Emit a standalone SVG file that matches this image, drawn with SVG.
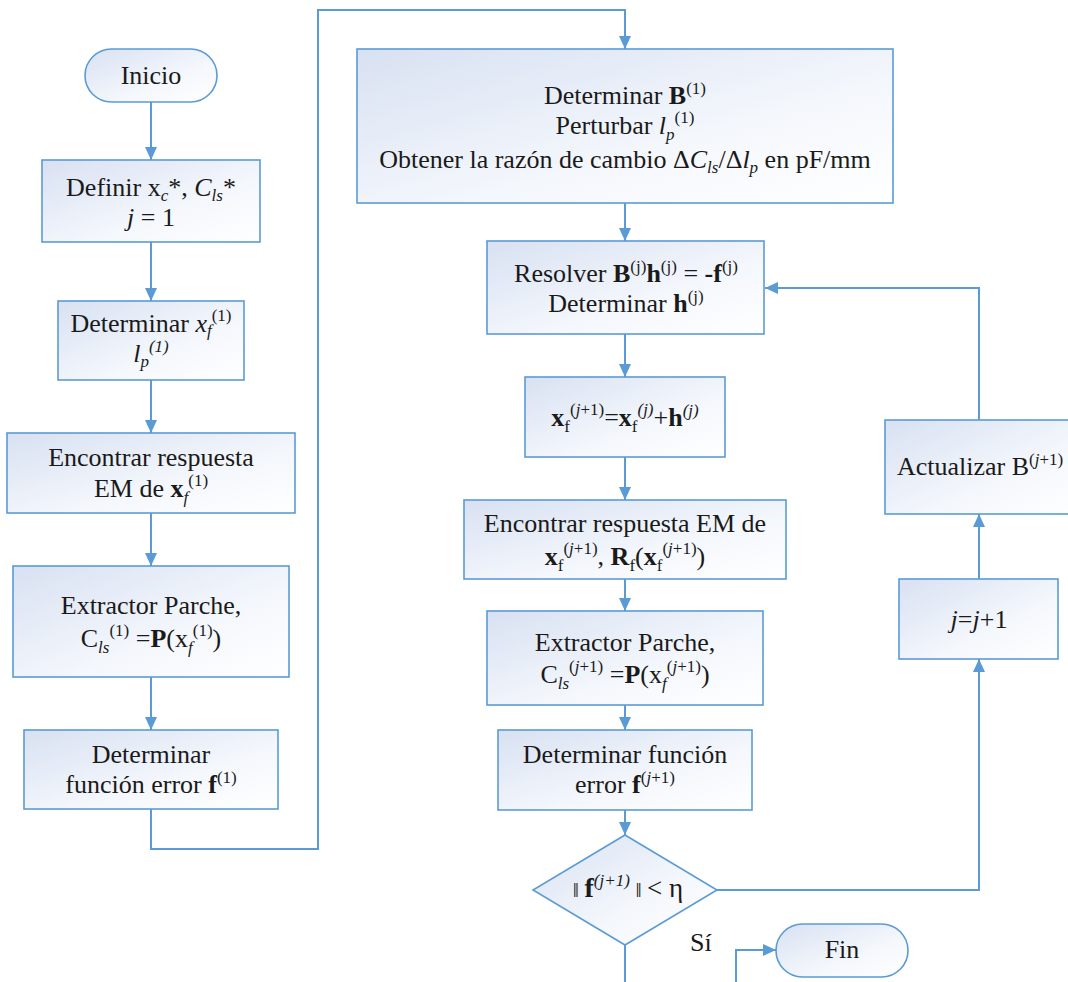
<svg xmlns="http://www.w3.org/2000/svg" width="1068" height="982" viewBox="0 0 1068 982">
<defs>
<linearGradient id="g" x1="0" y1="0" x2="1" y2="1">
<stop offset="0" stop-color="#d8e1f2"/>
<stop offset="0.6" stop-color="#f4f7fc"/>
<stop offset="1" stop-color="#ffffff"/>
</linearGradient>
<marker id="ar" markerUnits="userSpaceOnUse" markerWidth="14" markerHeight="12" refX="13" refY="6" orient="auto">
<path d="M0,0 L13,6 L0,12 Z" fill="#5b9bd5"/>
</marker>
<style>
.n{fill:url(#g);stroke:#5b9bd5;stroke-width:1.6}
.c{fill:none;stroke:#5b9bd5;stroke-width:2}
text{font-family:'Liberation Serif',Tinos,'DejaVu Serif','Noto Serif','Times New Roman',Times,serif;font-size:26px;fill:#1a1a1a}
.t{text-anchor:middle}
.i{font-style:italic}
.b{font-weight:bold}
.s{font-size:17px}
</style>
</defs>
<g id="connectors">
<path class="c" d="M151 102 V160" marker-end="url(#ar)"/>
<path class="c" d="M151 242 V301" marker-end="url(#ar)"/>
<path class="c" d="M151 380 V433" marker-end="url(#ar)"/>
<path class="c" d="M151 513 V566" marker-end="url(#ar)"/>
<path class="c" d="M151 677 V730" marker-end="url(#ar)"/>
<path class="c" d="M151 809 V849 H318 V10 H625 V49" marker-end="url(#ar)"/>
<path class="c" d="M625 203 V241" marker-end="url(#ar)"/>
<path class="c" d="M625 334 V377" marker-end="url(#ar)"/>
<path class="c" d="M625 457 V500" marker-end="url(#ar)"/>
<path class="c" d="M625 579 V611" marker-end="url(#ar)"/>
<path class="c" d="M625 705 V730" marker-end="url(#ar)"/>
<path class="c" d="M625 810 V835" marker-end="url(#ar)"/>
<path class="c" d="M717 890 H979 V659" marker-end="url(#ar)"/>
<path class="c" d="M979 579 V514" marker-end="url(#ar)"/>
<path class="c" d="M979 420 V288 H765" marker-end="url(#ar)"/>
<path class="c" d="M625 945 V982"/>
<path class="c" d="M736 982 V950 H776" marker-end="url(#ar)"/>
</g>
<g id="inicio">
<rect class="n" x="85" y="49" width="132" height="53" rx="26.5"/>
<text class="t" x="151" y="84">Inicio</text>
</g>
<g id="definir">
<rect class="n" x="42" y="160" width="218" height="82"/>
<text class="t" x="151" y="196">Definir x<tspan class="s i" dy="5">c</tspan><tspan dy="-5">*, </tspan><tspan class="i">C</tspan><tspan class="s i" dy="5">ls</tspan><tspan dy="-5">*</tspan></text>
<text class="t" x="151" y="226"><tspan class="i">j</tspan> = 1</text>
</g>
<g id="determinar-xf">
<rect class="n" x="58" y="301" width="186" height="79"/>
<text class="t" x="151" y="332">Determinar <tspan class="i">x</tspan><tspan class="s i" dy="4">f</tspan><tspan class="s" dy="-15">(1)</tspan></text>
<text class="t" x="151" y="362"><tspan class="i">l</tspan><tspan class="s i" dy="5">p</tspan><tspan class="s i" dy="-15">(1)</tspan></text>
</g>
<g id="encontrar1">
<rect class="n" x="7" y="433" width="288" height="80"/>
<text class="t" x="151" y="466">Encontrar respuesta</text>
<text class="t" x="151" y="497">EM de <tspan class="b">x</tspan><tspan class="s i" dy="6">f</tspan><tspan class="s" dy="-17">(1)</tspan></text>
</g>
<g id="extractor1">
<rect class="n" x="13" y="566" width="276" height="111"/>
<text class="t" x="151" y="614">Extractor Parche,</text>
<text class="t" x="151" y="647">C<tspan class="s i" dy="6">ls</tspan><tspan class="s" dy="-17">(1)</tspan><tspan dy="11"> =</tspan><tspan class="b">P</tspan>(x<tspan class="s i" dy="6">f</tspan><tspan class="s" dy="-17">(1)</tspan><tspan dy="11">)</tspan></text>
</g>
<g id="error1">
<rect class="n" x="24" y="730" width="254" height="79"/>
<text class="t" x="151" y="763">Determinar</text>
<text class="t" x="151" y="793">función error <tspan class="b">f</tspan><tspan class="s" dy="-10">(1)</tspan></text>
</g>
<g id="determinar-b">
<rect class="n" x="357" y="49" width="536" height="154"/>
<text class="t" x="625" y="104">Determinar <tspan class="b">B</tspan><tspan class="s" dy="-10">(1)</tspan></text>
<text class="t" x="625" y="134">Perturbar <tspan class="i">l</tspan><tspan class="s i" dy="6">p</tspan><tspan class="s" dy="-17">(1)</tspan></text>
<text class="t" x="625" y="168">Obtener la razón de cambio Δ<tspan class="i">C</tspan><tspan class="s i" dy="5">ls</tspan><tspan dy="-5">/Δ</tspan><tspan class="i">l</tspan><tspan class="s i" dy="5">p</tspan><tspan dy="-5"> en pF/mm</tspan></text>
</g>
<g id="resolver">
<rect class="n" x="487" y="241" width="277" height="93"/>
<text class="t" x="626" y="282">Resolver <tspan class="b">B</tspan><tspan class="s" dy="-10">(j)</tspan><tspan class="b" dy="10">h</tspan><tspan class="s" dy="-10">(j)</tspan><tspan dy="10"> = </tspan><tspan class="b">-f</tspan><tspan class="s" dy="-10">(j)</tspan></text>
<text class="t" x="626" y="312">Determinar <tspan class="b">h</tspan><tspan class="s" dy="-10">(j)</tspan></text>
</g>
<g id="actualizar-xf">
<rect class="n" x="525" y="377" width="200" height="80"/>
<text class="t" x="625" y="426"><tspan class="b">x</tspan><tspan class="s" dy="6">f</tspan><tspan class="s" dy="-17">(<tspan class="i">j</tspan>+1)</tspan><tspan dy="11">=</tspan><tspan class="b">x</tspan><tspan class="s" dy="6">f</tspan><tspan class="s i" dy="-17">(j)</tspan><tspan dy="11">+</tspan><tspan class="b">h</tspan><tspan class="s i" dy="-10">(j)</tspan></text>
</g>
<g id="encontrar2">
<rect class="n" x="464" y="500" width="322" height="79"/>
<text class="t" x="625" y="532">Encontrar respuesta EM de</text>
<text class="t" x="625" y="565"><tspan class="b">x</tspan><tspan class="s" dy="6">f</tspan><tspan class="s" dy="-17">(<tspan class="i">j</tspan>+1)</tspan><tspan dy="11">, </tspan><tspan class="b">R</tspan><tspan class="s" dy="6">f</tspan><tspan dy="-6">(</tspan><tspan class="b">x</tspan><tspan class="s" dy="6">f</tspan><tspan class="s" dy="-17">(<tspan class="i">j</tspan>+1)</tspan><tspan dy="11">)</tspan></text>
</g>
<g id="extractor2">
<rect class="n" x="487" y="611" width="276" height="94"/>
<text class="t" x="625" y="651">Extractor Parche,</text>
<text class="t" x="625" y="683">C<tspan class="s i" dy="6">ls</tspan><tspan class="s" dy="-17">(<tspan class="i">j</tspan>+1)</tspan><tspan dy="11"> =</tspan><tspan class="b">P</tspan>(x<tspan class="s i" dy="6">f</tspan><tspan class="s" dy="-17">(<tspan class="i">j</tspan>+1)</tspan><tspan dy="11">)</tspan></text>
</g>
<g id="error2">
<rect class="n" x="498" y="730" width="254" height="80"/>
<text class="t" x="625" y="763">Determinar función</text>
<text class="t" x="625" y="793">error <tspan class="b">f</tspan><tspan class="s" dy="-10">(<tspan class="i">j</tspan>+1)</tspan></text>
</g>
<g id="decision">
<path class="n" d="M625 835 L717 890 L625 945 L533 890 Z"/>
<text class="t" x="628" y="897"><tspan font-size="22px">‖ </tspan><tspan class="b" font-size="28px">f</tspan><tspan class="s i" dy="-11">(j+1)</tspan><tspan dy="11" font-size="22px"> ‖ </tspan><tspan font-size="27px">&lt; η</tspan></text>
</g>
<g id="actualizar-b">
<rect class="n" x="885" y="420" width="200" height="94"/>
<text x="897" y="475">Actualizar B<tspan class="s" dy="-10">(<tspan class="i">j</tspan>+1)</tspan></text>
</g>
<g id="incremento">
<rect class="n" x="899" y="579" width="159" height="80"/>
<text class="t" x="979" y="628"><tspan class="i">j</tspan>=<tspan class="i">j</tspan>+1</text>
</g>
<g id="label-si">
<text x="690" y="951" font-size="23px">Sí</text>
</g>
<g id="fin">
<rect class="n" x="776" y="924" width="132" height="53" rx="26.5"/>
<text class="t" x="842" y="958">Fin</text>
</g>
</svg>
